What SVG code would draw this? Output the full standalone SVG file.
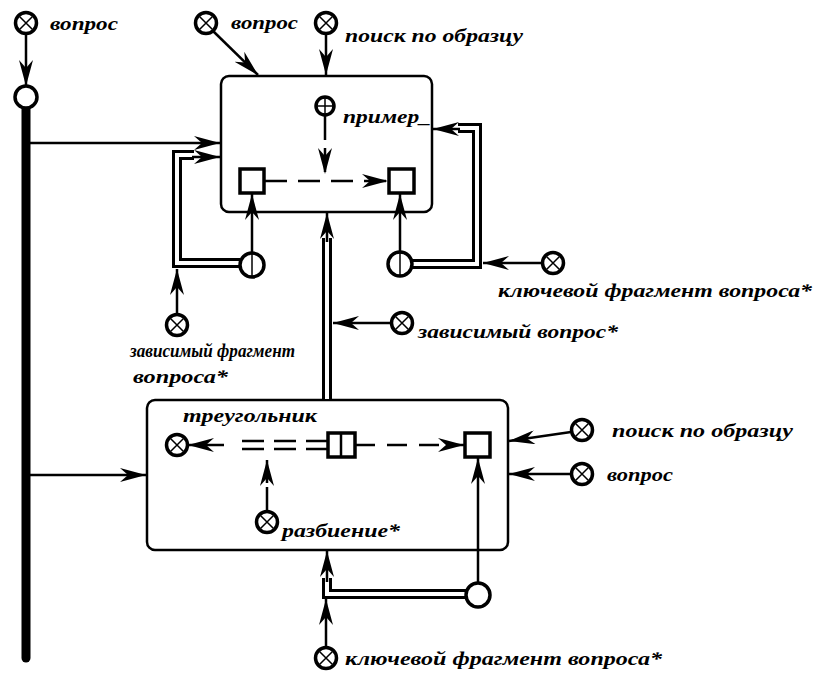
<svg xmlns="http://www.w3.org/2000/svg" xmlns:xlink="http://www.w3.org/1999/xlink" width="820" height="678" viewBox="0 0 820 678">
<style>
.ln{stroke:#000;stroke-width:2.5;fill:none}
.dsh{stroke:#000;stroke-width:2.5;fill:none;stroke-dasharray:22 11}
.dbo{stroke:#000;stroke-width:10;fill:none}
.dbi{stroke:#fff;stroke-width:4;fill:none}
.box{fill:#fff;stroke:#000;stroke-width:2.5}
.sym{fill:#fff;stroke:#000;stroke-width:3.5}
.sq{fill:#fff;stroke:#000;stroke-width:3.5}
.x{stroke:#000;stroke-width:1.5}
.t{font-family:"Liberation Serif","DejaVu Serif",serif;font-weight:bold;font-style:italic;font-size:19px;fill:#000}
</style>
<defs>
<marker id="ah" markerWidth="26" markerHeight="14" refX="26" refY="7" orient="auto" markerUnits="userSpaceOnUse">
<path d="M0,0 L26,7 L0,14 L8,7 z" fill="#000"/>
</marker>
<g id="ox"><circle r="10.5" class="sym"/><path class="x" d="M-6.5,-6.5 L6.5,6.5 M6.5,-6.5 L-6.5,6.5"/></g>
</defs>
<rect width="820" height="678" fill="#fff"/>

<g id="boxes">
<rect id="box1" x="221" y="76" width="211" height="136" rx="8" class="box"/>
<rect id="box2" x="147" y="400" width="361" height="150" rx="8" class="box"/>
</g>

<g id="connectors">
<line x1="26" y1="108" x2="26" y2="658" stroke="#000" stroke-width="9" stroke-linecap="round"/>
<line class="ln" x1="26" y1="34" x2="26" y2="86" marker-end="url(#ah)"/>
<line class="ln" x1="213" y1="31" x2="258" y2="75" marker-end="url(#ah)"/>
<line class="ln" x1="326" y1="34" x2="326" y2="75" marker-end="url(#ah)"/>
<line class="ln" x1="30" y1="143" x2="220" y2="143" marker-end="url(#ah)"/>
<line class="ln" x1="30" y1="475" x2="146" y2="475" marker-end="url(#ah)"/>
<path class="ln" d="M325,116 V174" style="stroke-dasharray:24 8" marker-end="url(#ah)"/>
<path class="dsh" d="M265,181 H388" marker-end="url(#ah)"/>
<line class="ln" x1="252" y1="253" x2="252" y2="194" marker-end="url(#ah)"/>
<line class="ln" x1="400" y1="252" x2="400" y2="194" marker-end="url(#ah)"/>
<path class="dbo" d="M240,263 H177 V155 H194"/>
<path class="dbi" d="M240,263 H177 V155 H194"/>
<line class="ln" x1="192" y1="157" x2="220" y2="157" marker-end="url(#ah)"/>
<line class="ln" x1="177" y1="314" x2="177" y2="269" marker-end="url(#ah)"/>
<path class="dbo" d="M412,264 H477 V128 H458"/>
<path class="dbi" d="M412,264 H477 V128 H458"/>
<line class="ln" x1="460" y1="129" x2="433" y2="129" marker-end="url(#ah)"/>
<line class="ln" x1="542" y1="263" x2="483" y2="263" marker-end="url(#ah)"/>
<path class="dbo" d="M327,399 V238"/>
<path class="dbi" d="M327,399 V238"/>
<line class="ln" x1="327" y1="242" x2="327" y2="213" marker-end="url(#ah)"/>
<line class="ln" x1="391" y1="323" x2="333" y2="323" marker-end="url(#ah)"/>
<path class="ln" d="M328,441 H235 M328,449 H235" style="stroke-dasharray:22 10"/>
<line class="ln" x1="224" y1="445" x2="188" y2="445" marker-end="url(#ah)"/>
<path class="ln" d="M355,445 H464" style="stroke-dasharray:20 12" marker-end="url(#ah)"/>
<path class="ln" d="M267,511 V460" style="stroke-dasharray:24 4" marker-end="url(#ah)"/>
<line class="ln" x1="571" y1="432" x2="509" y2="441" marker-end="url(#ah)"/>
<line class="ln" x1="571" y1="474" x2="509" y2="474" marker-end="url(#ah)"/>
<line class="ln" x1="478" y1="583" x2="478" y2="458" marker-end="url(#ah)"/>
<path class="dbo" d="M466,594 H327 V578"/>
<path class="dbi" d="M466,594 H327 V578"/>
<line class="ln" x1="327" y1="582" x2="327" y2="551" marker-end="url(#ah)"/>
<line class="ln" x1="326" y1="647" x2="326" y2="599" marker-end="url(#ah)"/>
</g>

<g id="n-vopros1"><use xlink:href="#ox" x="26" y="23"/><text class="t" x="50" y="30" textLength="68" lengthAdjust="spacingAndGlyphs">вопрос</text></g>
<g id="n-junction"><circle cx="26" cy="97" r="11" class="sym"/></g>
<g id="n-vopros2"><use xlink:href="#ox" x="206" y="23"/><text class="t" x="231" y="29" textLength="67" lengthAdjust="spacingAndGlyphs">вопрос</text></g>
<g id="n-poisk1"><use xlink:href="#ox" x="326" y="23"/><text class="t" x="345" y="42" textLength="178" lengthAdjust="spacingAndGlyphs">поиск по образцу</text></g>
<g id="n-primer"><circle cx="325" cy="106" r="9" class="sym"/><path class="x" d="M316,106 H334 M325,97 V115"/><text class="t" x="343" y="123" textLength="88" lengthAdjust="spacingAndGlyphs">пример_</text></g>
<g id="n-sq1"><rect x="240" y="169" width="24" height="24" class="sq"/></g>
<g id="n-sq2"><rect x="389" y="169" width="25" height="24" class="sq"/></g>
<g id="n-cl"><circle cx="252" cy="265" r="12" class="sym"/><line class="x" x1="252" y1="253" x2="252" y2="277"/></g>
<g id="n-cr"><circle cx="400" cy="264" r="12" class="sym"/><line class="x" x1="400" y1="252" x2="400" y2="276"/></g>
<g id="n-zfv"><use xlink:href="#ox" x="177" y="325"/><text class="t" x="130" y="357" textLength="165" lengthAdjust="spacingAndGlyphs">зависимый фрагмент</text><text class="t" x="133" y="383" textLength="95" lengthAdjust="spacingAndGlyphs">вопроса*</text></g>
<g id="n-kfv1"><use xlink:href="#ox" x="553" y="263"/><text class="t" x="498" y="297" textLength="314" lengthAdjust="spacingAndGlyphs">ключевой фрагмент вопроса*</text></g>
<g id="n-zv"><use xlink:href="#ox" x="402" y="323"/><text class="t" x="418" y="338" textLength="200" lengthAdjust="spacingAndGlyphs">зависимый вопрос*</text></g>
<g id="n-tri"><use xlink:href="#ox" x="177" y="445"/><text class="t" x="183" y="422" textLength="134" lengthAdjust="spacingAndGlyphs">треугольник</text></g>
<g id="n-dsq"><rect x="328" y="433" width="27" height="24" class="sq"/><line stroke="#000" stroke-width="2.5" x1="341" y1="433" x2="341" y2="457"/></g>
<g id="n-sq3"><rect x="465" y="433" width="25" height="24" class="sq"/></g>
<g id="n-razb"><use xlink:href="#ox" x="267" y="522"/><text class="t" x="282" y="537" textLength="118" lengthAdjust="spacingAndGlyphs">разбиение*</text></g>
<g id="n-poisk2"><use xlink:href="#ox" x="582" y="430"/><text class="t" x="612" y="437" textLength="181" lengthAdjust="spacingAndGlyphs">поиск по образцу</text></g>
<g id="n-vopros3"><use xlink:href="#ox" x="582" y="474"/><text class="t" x="607" y="481" textLength="66" lengthAdjust="spacingAndGlyphs">вопрос</text></g>
<g id="n-cb"><circle cx="478" cy="595" r="12" class="sym"/></g>
<g id="n-kfv2"><use xlink:href="#ox" x="326" y="658"/><text class="t" x="345" y="665" textLength="317" lengthAdjust="spacingAndGlyphs">ключевой фрагмент вопроса*</text></g>
</svg>
